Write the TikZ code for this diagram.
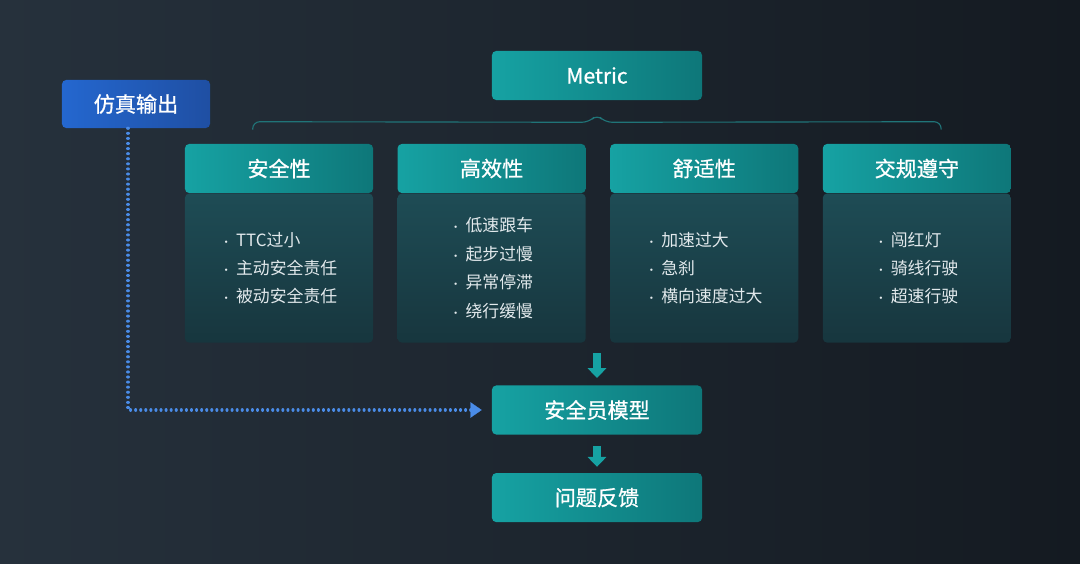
\documentclass[tikz,border=0pt]{standalone}
\usepackage{fontspec}
\setmainfont{Noto Sans CJK SC}
\newfontfamily\headfont{Noto Sans CJK SC}[FakeBold=0.8]
\usetikzlibrary{%
	calc,%
	arrows.meta,%
	positioning,%
}
\definecolor{cbgleft}{HTML}{26313C}
\definecolor{cbgright}{HTML}{141A21}
\definecolor{cteal}{HTML}{16A2A3}
\definecolor{ctealdark}{HTML}{0E7779}
\definecolor{cpaneltop}{HTML}{1E4C55}
\definecolor{cpanelbottom}{HTML}{17363E}
\definecolor{cblue}{HTML}{2467CF}
\definecolor{cbluedark}{HTML}{1F4FA3}
\definecolor{cdots}{HTML}{4A8CE8}
\definecolor{cbrace}{HTML}{207478}
\definecolor{ctext}{HTML}{E2E9EC}
\tikzset{
	>=Triangle,%
	nodes={align=center},%
	tealbox/.style={%
			rounded corners=3pt,%
			left color=cteal,%
			right color=ctealdark,%
			text=white,%
			font=\headfont\fontsize{15}{18}\selectfont,%
			minimum width=5.25cm,%
			minimum height=1.225cm},%
	headbox/.style={%
			tealbox,%
			minimum width=4.7cm},%
	panelbox/.style={%
			rounded corners=3pt,%
			top color=cpaneltop,%
			bottom color=cpanelbottom,%
			minimum width=4.7cm,%
			minimum height=3.725cm},%
	simbox/.style={%
			rounded corners=3pt,%
			left color=cblue,%
			right color=cbluedark,%
			text=white,%
			font=\headfont\fontsize{15}{18}\selectfont,%
			minimum width=3.7cm,%
			minimum height=1.2cm},%
	itemlist/.style={%
			align=left,%
			text=ctext,%
			font=\fontsize{12}{20.2}\selectfont},%
	flow/.style={%
			->,%
			draw=cteal,%
			line width=5pt,%
			arrows={-Triangle[width=13pt,length=7pt]}},%
}
\newcommand{\itemdot}{{\fontsize{8}{8}\selectfont ·}\hspace{3pt}}

\begin{document}
\begin{tikzpicture}[x=0.025cm, y=-0.025cm]%
	\shade[shading angle=300, left color=cbgleft, right color=cbgright] (0,0) rectangle (1080,564);
	\useasboundingbox (0,0) rectangle (1080,564);

	\node[tealbox] (metric) at (597,75.5) {Metric};

	\node[simbox] (sim) at (136,104) {仿真输出};

	\node[headbox] (safe) at (279,168.5) {安全性};
	\node[headbox, right=0.6cm of safe] (eff) {高效性};
	\node[headbox, right=0.6cm of eff] (comf) {舒适性};
	\node[headbox, right=0.6cm of comf] (rule) {交规遵守};

	\node[panelbox, below=0pt of safe] (safep) {};
	\node[panelbox, below=0pt of eff] (effp) {};
	\node[panelbox, below=0pt of comf] (comfp) {};
	\node[panelbox, below=0pt of rule] (rulep) {};

	\node[itemlist] (safel) at (safep.center) {\itemdot TTC过小\\\itemdot 主动安全责任\\\itemdot 被动安全责任};
	\node[itemlist] (effl) at (effp.center) {\itemdot 低速跟车\\\itemdot 起步过慢\\\itemdot 异常停滞\\\itemdot 绕行缓慢};
	\node[itemlist] (comfl) at (comfp.center) {\itemdot 加速过大\\\itemdot 急刹\\\itemdot 横向速度过大};
	\node[itemlist] (rulel) at (rulep.center) {\itemdot 闯红灯\\\itemdot 骑线行驶\\\itemdot 超速行驶};

	\node[tealbox] (model) at (597,410) {安全员模型};
	\node[tealbox, below=0.95cm of model] (feedback) {问题反馈};

	% brace under Metric
	\coordinate (bl) at ($(safe.north west)+(68,-14)$);
	\coordinate (br) at ($(rule.north east)+(-70,-14)$);
	\draw[cbrace, line width=0.8pt, rounded corners=5pt] (bl) -- ++(0,-8) -- ($(metric.south)+(-8,22)$) -- ($(metric.south)+(0,14)$) -- ($(metric.south)+(8,22)$) -- ($(br)+(0,-8)$) -- (br);

	% flow arrows
	\coordinate (rowend) at (metric.south |- effp.south);
	\draw[flow, shorten <=0.25cm, shorten >=0.18cm] (rowend) -- (model);
	\draw[flow, shorten <=0.28cm, shorten >=0.15cm] (model) -- (feedback);

	% simulation output into model
	\draw[cdots, line width=2.2pt, line cap=round, dash pattern=on 0.01pt off 3.6pt, shorten >=0.45cm] ($(sim.south)+(-8,0)$) |- (model.west);
	\draw[cdots, arrows={-Triangle[width=11pt,length=8pt,fill=cdots]}, line width=0.1pt, shorten >=0.25cm] ($(model.west)+(-20,0)$) -- (model.west);
\end{tikzpicture}
\end{document}
